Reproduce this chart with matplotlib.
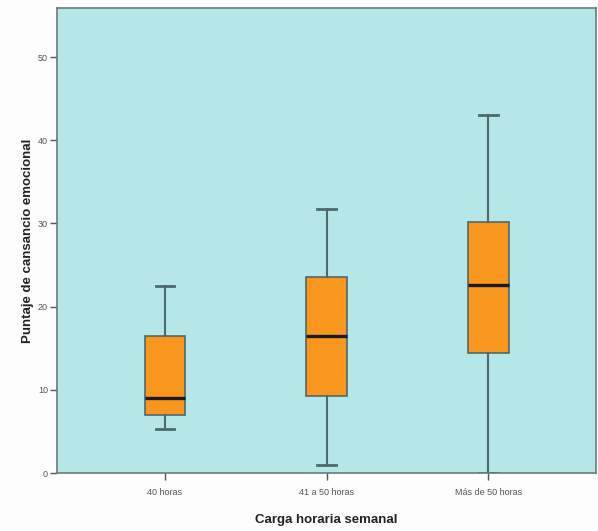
import matplotlib
matplotlib.use("Agg")
import matplotlib.pyplot as plt

categories = ["40 horas", "41 a 50 horas", "Más de 50 horas"]
whisker_low = [5.3, 1.0, 0.0]
q1 = [7.0, 9.3, 14.4]
median = [9.0, 16.5, 22.6]
q3 = [16.5, 23.6, 30.2]
whisker_high = [22.5, 31.8, 43.0]
y_ticks = [0, 10, 20, 30, 40, 50]

plt.rcParams['font.family'] = ['Liberation Sans', 'DejaVu Sans']

fig = plt.figure(figsize=(5.98, 5.31), dpi=100, facecolor='#fdfdfd')
ax = fig.add_axes([0.0953, 0.109, 0.9017, 0.876])
ax.set_facecolor('#b5e6e8')

stats = []
for i, name in enumerate(categories):
    stats.append({'label': name, 'whislo': whisker_low[i], 'q1': q1[i],
                  'med': median[i], 'q3': q3[i], 'whishi': whisker_high[i]})

line_col = '#4d6a6c'
ax.bxp(stats, positions=[1, 2, 3], widths=0.25, capwidths=0.115,
       patch_artist=True, showfliers=False,
       boxprops=dict(facecolor='#f8961e', edgecolor=line_col, linewidth=1.2),
       medianprops=dict(color='#1a1a1a', linewidth=2.4),
       whiskerprops=dict(color=line_col, linewidth=1.5),
       capprops=dict(color=line_col, linewidth=2.0))

ax.set_xlim(1 / 3, 11 / 3)
ax.set_ylim(0, 55.9)
ax.set_yticks(y_ticks)
ax.set_yticklabels([str(v) for v in y_ticks])
ax.set_xticks([1, 2, 3])
ax.set_xticklabels(categories)

for s in ax.spines.values():
    s.set_color('#6b7b7c')
    s.set_linewidth(1.2)

ax.tick_params(axis='both', direction='out', colors='#555555', labelsize=6.5,
               length=5, width=1, labelcolor='#555555')
ax.tick_params(axis='y', pad=1.5)
ax.tick_params(axis='x', pad=6)

ax.set_xlabel('Carga horaria semanal', fontsize=9.5, fontweight='bold',
              labelpad=12, color='#222222')
ax.set_ylabel('Puntaje de cansancio emocional', fontsize=9.5,
              fontweight='bold', labelpad=3, color='#222222')

fig.savefig('out.png', dpi=100, facecolor=fig.get_facecolor())
